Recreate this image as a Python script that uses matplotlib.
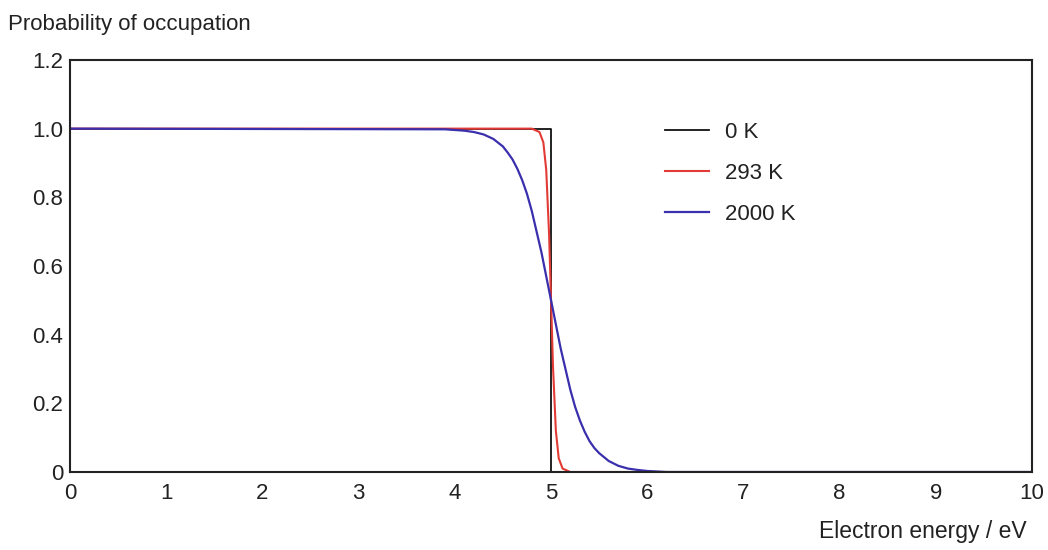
import matplotlib
matplotlib.use('Agg')
import matplotlib.pyplot as plt

plt.rcParams['font.family'] = ['Liberation Sans', 'DejaVu Sans']

# Valores
e_0k = [0.0, 5.0, 5.0, 10.0]
f_0k = [1.0, 1.0, 0.0, 0.0]

e_293k = [0.0, 4.80, 4.88, 4.92, 4.95, 4.98, 5.00, 5.02, 5.05, 5.08, 5.12, 5.20, 10.0]
f_293k = [1.0, 1.0, 0.99, 0.96, 0.88, 0.69, 0.50, 0.31, 0.12, 0.04, 0.01, 0.0, 0.0]

e_2000k = [0.0, 3.9, 4.1, 4.2, 4.3, 4.4, 4.5, 4.55, 4.6, 4.65, 4.7, 4.75, 4.8,
           4.9, 5.0, 5.1, 5.2, 5.25, 5.3, 5.35, 5.4, 5.45, 5.5, 5.6, 5.7,
           5.8, 5.9, 6.0, 6.2, 10.0]
f_2000k = [1.0, 0.998, 0.994, 0.99, 0.983, 0.97, 0.948, 0.93, 0.91, 0.883, 0.85,
           0.81, 0.76, 0.64, 0.50, 0.36, 0.24, 0.19, 0.15, 0.117, 0.09, 0.07,
           0.055, 0.032, 0.018, 0.01, 0.006, 0.003, 0.0, 0.0]

x_ticks = list(range(0, 11))
y_ticks = [0, 0.2, 0.4, 0.6, 0.8, 1.0, 1.2]
y_labels = ['0', '0.2', '0.4', '0.6', '0.8', '1.0', '1.2']

fig = plt.figure(figsize=(10.48, 5.5), dpi=100)
ax = fig.add_axes([0.0668, 0.1418, 0.918, 0.7492])

ax.plot(e_0k, f_0k, color='#111111', lw=1.3, label='0 K')
ax.plot(e_293k, f_293k, color='#e23b36', lw=1.5, label='293 K')
ax.plot(e_2000k, f_2000k, color='#3a2fac', lw=1.6, label='2000 K')

ax.set_xlim(0, 10)
ax.set_ylim(0, 1.2)
ax.set_xticks(x_ticks)
ax.set_yticks(y_ticks)
ax.set_yticklabels(y_labels)
ax.tick_params(length=0, labelsize=16, colors='#222222')
ax.tick_params(axis='x', pad=8)
ax.tick_params(axis='y', pad=5)
for s in ax.spines.values():
    s.set_color('#222222')
    s.set_linewidth(1.5)

fig.text(0.008, 0.955, 'Probability of occupation', fontsize=16, color='#222222',
         ha='left', va='center')
fig.text(0.98, 0.033, 'Electron energy / eV', fontsize=16.5, color='#222222',
         ha='right', va='center')

ax.legend(loc='upper left', bbox_to_anchor=(0.6185, 0.85), frameon=False,
          fontsize=16, handlelength=2.0, handletextpad=0.7, labelspacing=0.9,
          borderpad=0, borderaxespad=0, labelcolor='#222222')

fig.savefig('out.png', dpi=100)
